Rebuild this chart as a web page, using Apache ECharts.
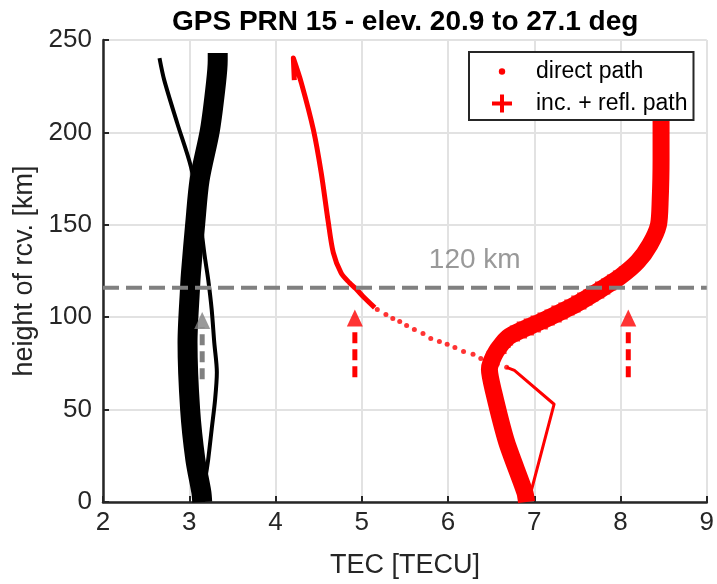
<!DOCTYPE html>
<html><head><meta charset="utf-8">
<script src="https://cdn.jsdelivr.net/npm/echarts@6/dist/echarts.min.js"></script>
<style>html,body{margin:0;padding:0;background:#fff}#c{width:717px;height:584px}</style>
</head><body><div id="c"></div>
<script>
// ---- axis ticks
const xTicks = [2, 3, 4, 5, 6, 7, 8, 9];
const yTicks = [0, 50, 100, 150, 200, 250];
// ---- black curves [TEC, height]
const blackDirect = [[2.655,240.2],[2.71,228.3],[2.86,205.1],[3.02,181.3],[3.11,158.1],[3.18,132.8],[3.22,120.3],[3.26,104.2],[3.29,86.3],[3.32,70.2],[3.30,55.6],[3.26,39.4],[3.22,23.2],[3.17,7.0],[3.16,0]];
const blackRefl = [[3.33,243],[3.33,239],[3.31,226.7],[3.24,201.3],[3.12,174.3],[3.07,151.1],[3.02,124.1],[3.01,116.6],[2.98,86.3],[3.01,50.2],[3.07,23.2],[3.14,5.4],[3.15,0]];
// ---- red curves
const redDirectSolid = [[4.218,228.3],[4.207,240.2],[4.30,226.7],[4.44,201.3],[4.53,178.1],[4.61,152],[4.67,135],[4.76,124],[4.86,118.5],[4.93,115.5],[5.01,111.5],[5.15,105.2]];
const redDirectDots = [[5.18,104.2],[5.28,101.5],[5.36,99.3],[5.44,97.7],[5.52,95.5],[5.61,93.4],[5.71,91.2],[5.80,88.5],[5.90,86.9],[5.99,85.3],[6.08,83.6],[6.18,81.5],[6.29,79.9],[6.38,77.7],[6.47,76.1],[6.57,74.5],[6.68,72.9]];
const redDirectThin = [[6.68,72.9],[6.77,71.2],[7.23,52.9],[6.94,1.6]];
const redRefl = [[8.46,243],[8.46,241.8],[8.47,206.7],[8.47,185.1],[8.46,163.5],[8.44,150],[8.34,139.2],[8.20,130.1],[8.0,122],[7.77,115],[7.48,106.9],[7.08,97.7],[6.71,89.6],[6.56,81.5],[6.48,71.8],[6.53,59.4],[6.68,32.4],[6.89,5.4],[6.91,0]];
const redReflPlus = [[8.000,121.96],[7.931,119.8],[7.862,117.65],[7.793,115.49],[7.724,113.87],[7.655,111.71],[7.586,109.55],[7.517,107.93],[7.448,106.31],[7.368,104.16],[7.299,102.54],[7.218,100.92],[7.138,98.76],[7.057,97.14],[6.977,95.52],[6.897,93.90],[6.816,92.28],[6.736,90.12],[6.667,87.43],[6.609,84.19],[6.563,80.95]];
// ---- annotations
const refHeight = 116;
const refLabel = '120 km';
const refLabelPos = [6.31, 131];
const arrowGray = {x: 3.15, from: 66.4, to: 94.4, head: 98.2};
const arrowRed1 = {x: 4.92, from: 67.5, to: 95.0, head: 99.6};
const arrowRed2 = {x: 8.09, from: 67.5, to: 95.0, head: 99.6};

const FONT = "'Liberation Sans', Arial, Helvetica, sans-serif";
const TXT = '#262626';
const RED = '#ff0000';
const GRAY = '#808080';
const plusPath = 'path://M7.5,0h3v7.5h7.5v3h-7.5v7.5h-3v-7.5h-7.5v-3h7.5z';
const svgDot = "data:image/svg+xml;charset=utf-8," + encodeURIComponent("<svg xmlns='http://www.w3.org/2000/svg' width='58' height='22'><circle cx='29' cy='11' r='3.2' fill='#ff0000'/></svg>");
const svgPlus = "data:image/svg+xml;charset=utf-8," + encodeURIComponent("<svg xmlns='http://www.w3.org/2000/svg' width='58' height='22'><path d='M27,2h4v7h8v4h-8v7h-4v-7h-8v-4h8z' fill='#ff0000'/></svg>");

function arrowSeries(a, color) {
  return [{
    type: 'line', data: [[a.x, a.from], [a.x, a.to]], showSymbol: false, silent: true,
    lineStyle: {color: color, width: 5, type: [11, 6], cap: 'butt'}, z: 6
  }, {
    type: 'scatter', data: [[a.x, a.head]], symbol: 'triangle', symbolSize: [16, 17], silent: true,
    itemStyle: {color: color}, z: 6
  }];
}

const chart = echarts.init(document.getElementById('c'), null, {renderer: 'canvas'});
chart.setOption({
  animation: false,
  backgroundColor: '#fff',
  title: {
    text: 'GPS PRN 15 - elev. 20.9 to 27.1 deg', left: 167, top: 3,
    textStyle: {fontFamily: FONT, fontWeight: 'bold', fontSize: 28, color: '#000'}
  },
  grid: {left: 103, right: 5, top: 40, bottom: 81, containLabel: false},
  legend: {
    orient: 'vertical', left: 469, top: 52,
    padding: [8, 6, 5, 4], itemGap: 9, itemWidth: 58, itemHeight: 22,
    backgroundColor: '#fff', borderColor: TXT, borderWidth: 2,
    textStyle: {fontFamily: FONT, fontSize: 23, color: '#000', lineHeight: 22, padding: [0,0,0,0]},
    data: [{name: 'direct path', icon: 'image://' + svgDot}, {name: 'inc. + refl. path', icon: 'image://' + svgPlus}],
    selectedMode: false
  },
  xAxis: {
    type: 'value', min: xTicks[0], max: xTicks[xTicks.length - 1], interval: 1,
    name: 'TEC [TECU]', nameLocation: 'middle', nameGap: 50,
    nameTextStyle: {fontFamily: FONT, fontSize: 27, color: TXT},
    axisLine: {show: true, onZero: false, lineStyle: {color: TXT, width: 2.5}},
    axisTick: {show: true, inside: true, length: 6, lineStyle: {color: TXT, width: 2}},
    axisLabel: {fontFamily: FONT, fontSize: 26, color: TXT, margin: 8},
    splitLine: {show: true, lineStyle: {color: '#e2e2e2', width: 2}}
  },
  yAxis: {
    type: 'value', min: yTicks[0], max: yTicks[yTicks.length - 1], interval: 50,
    name: 'height of rcv. [km]', nameLocation: 'middle', nameGap: 64,
    nameTextStyle: {fontFamily: FONT, fontSize: 27, color: TXT},
    axisLine: {show: true, onZero: false, lineStyle: {color: TXT, width: 2.5}},
    axisTick: {show: true, inside: true, length: 6, lineStyle: {color: TXT, width: 2}},
    axisLabel: {fontFamily: FONT, fontSize: 26, color: TXT, margin: 11},
    splitLine: {show: true, lineStyle: {color: '#e2e2e2', width: 2}}
  },
  series: [
    {name: 'direct path (black)', type: 'line', data: blackDirect, showSymbol: false, smooth: 0.3,
     lineStyle: {color: '#000', width: 4, join: 'round'}, z: 2},
    {name: 'inc. + refl. path (black)', type: 'line', data: blackRefl, showSymbol: false, smooth: 0.3,
     lineStyle: {color: '#000', width: 20, join: 'round', cap: 'butt'}, z: 3},
    {name: 'direct path', type: 'line', data: redDirectSolid, showSymbol: false, smooth: 0.3,
     itemStyle: {color: RED}, lineStyle: {color: RED, width: 5, join: 'round'}, z: 2},
    {name: 'direct path', type: 'scatter', data: redDirectDots, symbol: 'circle', symbolSize: 5,
     itemStyle: {color: RED}, z: 2},
    {name: 'direct path', type: 'line', data: redDirectThin, showSymbol: false,
     itemStyle: {color: RED}, lineStyle: {color: RED, width: 3, join: 'round'}, z: 2},
    {name: 'inc. + refl. path', type: 'line', data: redRefl, showSymbol: false, smooth: 0.25,
     itemStyle: {color: RED}, lineStyle: {color: RED, width: 17, join: 'round', cap: 'butt'}, z: 3},
    {name: 'inc. + refl. path', type: 'scatter', data: redReflPlus, symbol: plusPath, symbolSize: 20,
     itemStyle: {color: RED}, z: 3},
    {type: 'line', data: [[xTicks[0], refHeight], [xTicks[xTicks.length - 1], refHeight]], showSymbol: false, silent: true,
     lineStyle: {color: GRAY, width: 4, type: [16, 7]}, z: 5},
    {type: 'scatter', data: [refLabelPos], symbolSize: 0, silent: true, z: 5,
     label: {show: true, position: 'inside', formatter: refLabel, fontFamily: FONT, fontSize: 28, color: GRAY}},
    ...arrowSeries(arrowGray, GRAY),
    ...arrowSeries(arrowRed1, RED),
    ...arrowSeries(arrowRed2, RED)
  ]
});
</script></body></html>
